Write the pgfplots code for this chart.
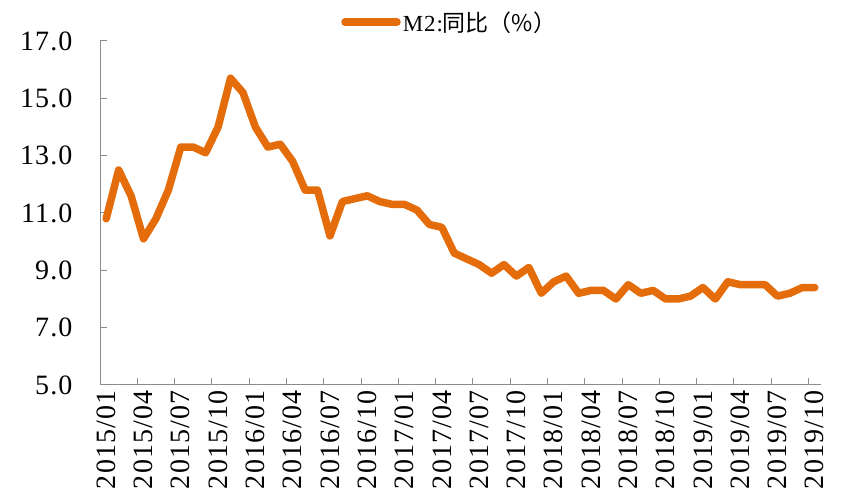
\documentclass[border=0pt]{standalone}
\usepackage{fontspec}
\setmainfont{Liberation Serif}
\newfontfamily\tickfont[LetterSpace=4]{Liberation Serif}
\newfontfamily\cjk{Noto Sans CJK SC}
\usepackage{pgfplots}
\usepackage{pgfplotstable}
\pgfplotsset{compat=1.18}
\definecolor{m2orange}{HTML}{E46C0A}
\definecolor{axgray}{HTML}{8C8C8C}
\pgfplotstableread{
v
10.8
12.5
11.6
10.1
10.8
11.8
13.3
13.3
13.1
14.0
15.7
15.2
14.0
13.3
13.4
12.8
11.8
11.8
10.2
11.4
11.5
11.6
11.4
11.3
11.3
11.1
10.6
10.5
9.6
9.4
9.2
8.9
9.2
8.8
9.1
8.2
8.6
8.8
8.2
8.3
8.3
8.0
8.5
8.2
8.3
8.0
8.0
8.1
8.4
8.0
8.6
8.5
8.5
8.5
8.1
8.2
8.4
8.4
}\mtwo
\begin{document}
\begin{tikzpicture}
\path[use as bounding box] (0,0) rectangle (841pt,492pt);
\begin{axis}[
  at={(100pt,107pt)}, anchor=south west,
  scale only axis, width=721pt, height=344pt,
  xmin=-0.5, xmax=57.5, ymin=5, ymax=17,
  clip=false,
  axis lines=left,
  axis line style={-, draw=axgray, line width=1pt},
  ytick={5,7,...,17},
  xtick={0,3,...,57},
  xticklabels={2015/01,2015/04,2015/07,2015/10,2016/01,2016/04,2016/07,2016/10,2017/01,2017/04,2017/07,2017/10,2018/01,2018/04,2018/07,2018/10,2019/01,2019/04,2019/07,2019/10},
  minor xtick={-0.5,2.5,...,56.5},
  tick align=inside,
  major tick length=7pt, minor tick length=7pt,
  tick style={draw=axgray, line width=1pt},
  major x tick style={draw=none},
  /pgf/number format/assume math mode=true,
  tick label style={font=\tickfont\fontsize{28}{30}\selectfont, text=black},
  yticklabel style={/pgf/number format/fixed, /pgf/number format/fixed zerofill, /pgf/number format/precision=1, xshift=-24pt},
  xticklabel style={rotate=90, anchor=east, xshift=-2pt},
  legend style={at={(axis description cs:0.485,1)}, anchor=south, draw=none, fill=none,
    font=\tickfont\fontsize{23}{25}\selectfont, yshift=4pt},
  legend image code/.code={\draw[#1, line cap=round] (0pt,0pt) -- (52pt,0pt);},
]
\addplot[m2orange, line width=7.5pt, line join=round, line cap=round]
  table[x expr=\coordindex, y=v] {\mtwo};
\addlegendentry{M2:{\cjk 同比（\%）}}
\end{axis}
\end{tikzpicture}
\end{document}
